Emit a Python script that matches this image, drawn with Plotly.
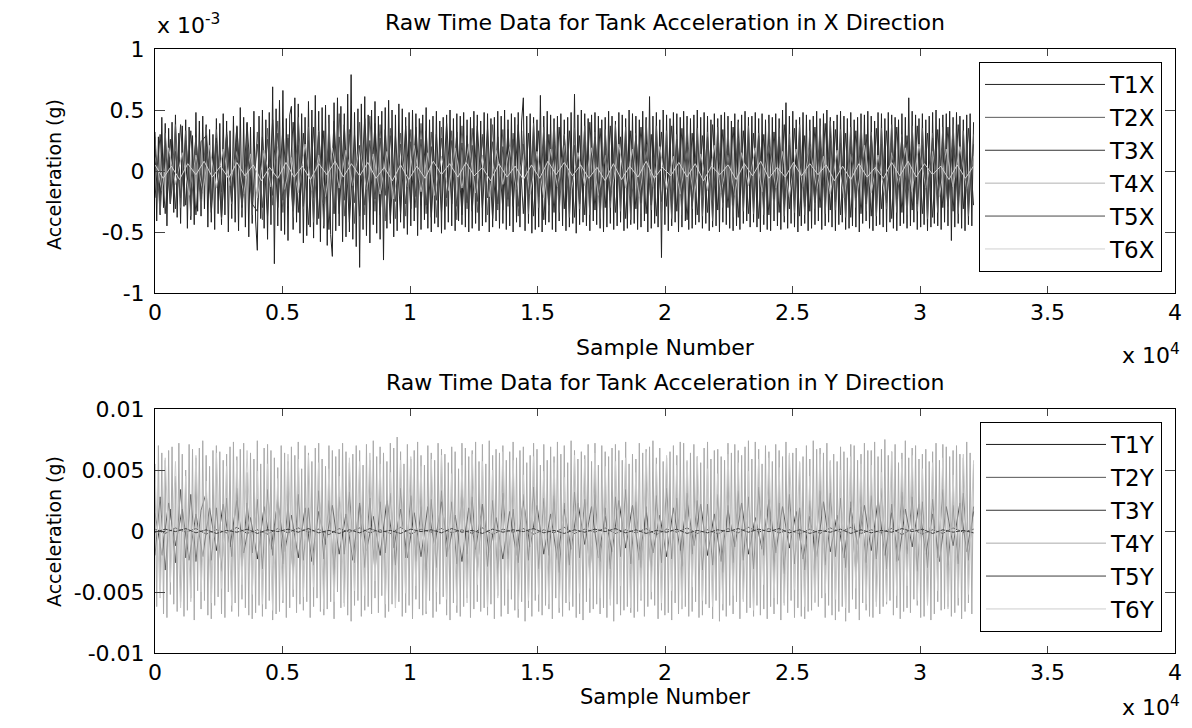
import numpy as np
import plotly.graph_objects as go

# ---------------- data ----------------
LAST_SAMPLE = 32100          # last sample index drawn
X_UNIT = 1e-5                # top panel values are in 1e-5 g
Y_UNIT = 1e-4                # bottom panel values are in 1e-4 g

TOP_NAMES = ["T1X", "T2X", "T3X", "T4X", "T5X", "T6X"]
BOT_NAMES = ["T1Y", "T2Y", "T3Y", "T4Y", "T5Y", "T6Y"]

T1X = [32,-41,28,-36,44,-30,39,-45,35,-27,
       40,-34,46,-38,31,-43,37,-29,42,-47,
       36,-40,29,-44,48,-33,41,-37,45,-31,
       38,-46,34,-42,30,-48,43,-35,39,-44,
       47,-36,41,-50,33,-39,45,-42,37,-49,
       52,-38,44,-46,40,-54,36,-43,49,-41,
       -65,45,-39,50,-47,42,-56,48,-44,69,
       -76,51,-45,58,-49,66,-52,43,-57,46,
       53,-48,60,-42,55,-51,47,-59,44,-53,
       57,-46,50,-55,62,-44,49,-58,52,-47,
       54,-61,46,-52,-70,56,-49,60,-45,53,
       -58,47,-54,63,-50,79,-56,48,-62,51,
       -79,55,-48,61,-53,46,-59,50,-44,57,
       -51,45,-56,49,-73,52,-47,58,-43,50,
       -54,46,-49,55,-42,51,-47,44,-52,48,
       -45,50,-41,47,-53,43,-48,46,-40,52,
       -47,42,-50,45,-43,49,-46,41,-51,44,
       -48,46,-42,50,-45,43,-49,47,-41,45,
       -44,48,-46,42,-50,44,-47,49,-43,46,
       -49,41,-45,48,-42,47,-50,43,-46,44,
       -41,49,-47,45,-43,50,-48,42,-45,47,
       -50,44,-42,48,-46,41,60,-49,45,-43,
       47,-51,44,-48,42,-46,62,-50,45,-44,
       49,-42,46,-48,43,-50,45,-41,47,-45,
       42,-49,44,-46,48,-43,63,-51,46,-44,
       50,-42,47,-45,43,-49,46,-41,48,-44,
       45,-47,42,-50,44,-46,49,-43,45,-48,
       41,-45,48,-42,46,-49,43,-47,50,-44,
       47,-43,45,-48,42,-46,49,-41,44,-50,
       61,-47,45,-43,48,-46,42,-71,50,-44,
       46,-49,43,-45,48,-42,47,-50,44,-46,
       49,-41,45,-48,43,-47,46,-44,50,-42,
       44,-47,48,-43,45,-49,42,-46,47,-45,
       43,-50,46,-42,48,-44,45,-47,41,-49,
       47,-45,42,-48,46,-43,49,-41,44,-46,
       45,-42,48,-46,43,-50,47,-44,42,-48,
       46,-49,44,-41,47,-45,43,-48,50,-42,
       56,-47,45,-43,49,-46,42,-50,44,-45,
       48,-43,46,-49,42,-47,45,-44,49,-41,
       43,-48,47,-45,50,-42,44,-46,41,-49,
       46,-44,49,-42,45,-48,43,-47,48,-45,
       42,-46,44,-50,47,-43,46,-41,49,-47,
       45,-49,41,-45,48,-44,47,-46,43,-50,
       48,-42,46,-47,44,-49,42,-45,47,-43,
       44,-47,60,-45,49,-42,46,-48,43,-46,
       47,-44,42,-49,45,-46,48,-43,50,-45,
       43,-48,46,-42,47,-45,49,-57,44,-46,
       48,-43,45,-47,42,-49,46,-44,47,-45,
       40]
T2X = [28,-35,31,-26,38,-30,33,-37,27,-32,
       36,-29,34,-39,30,-27,37,-33,29,-36,
       32,-40,35,-28,41,-34,30,-38,44,-31,
       36,-42,33,-45,39,-35,47,-37,34,-43,
       40,-36,45,-33,38,-41,35,-39,31,-37,
       34,-30,39,-35,32,-38,36,-29,33,-40,
       37,-31,35,-34,30,-36,38,-32,34,-29,
       31,-37,33,-35,39,-30,36,-33,41,-34,
       30,-38,35,-31,37,-36,32,-39,34,-30,
       38,-33,36,-40,31,-35,42,-32,37,-34,
       33,-39,30,-36,38,-31,35,-37,32,-41,
       36,-30,34,-38,40,-33,37,-35,31,-36,
       39,-32,35,-37,30,-34,38,-36,33,-31,
       37,-35,41,-32,34,-38,36,-30,39,-33,
       32,-37,35,-31,38,-34,30,-36,37,-33,
       35,-39,31,-34,36,-32,38,-35,33,-37,
       30]
T3X = [-22,30,-35,26,-31,38,-28,33,-36,24,
       29,-34,27,-38,32,-25,36,-30,39,-27,
       -33,28,-37,42,-30,35,-29,40,-34,31,
       -44,36,-39,33,-48,41,-35,38,-42,30,
       -37,43,-32,39,-36,34,-40,29,-35,37,
       -31,36,-28,33,-38,30,-34,39,-27,32,
       -36,29,-33,37,-30,35,-39,28,-32,34,
       -29,38,-35,31,-37,33,-40,30,-34,36,
       -31,33,-38,29,-36,40,-32,35,-30,37,
       -34,28,-39,33,-31,36,-35,30,-37,32,
       -29,37,-33,35,-40,31,-36,29,-34,38,
       -32,34,-30,36,-38,33,-35,31,-39,30,
       -36,32,-34,38,-31,35,-37,29,-33,36,
       -30,39,-32,34,-36,31,-38,33,-35,30,
       -37,35,-31,33,-39,36,-34,29,-32,37,
       -35,31,-38,34,-30,36,-33,38,-31,35,
       -28]
T4X = [12,-16,19,-11,15,-20,13,-17,21,-14,
       18,-12,16,-19,14,-22,17,-13,20,-15,
       11,-18,22,-16,13,-21,19,-14,17,-12,
       20,-15,14,-19,16,-23,18,-13,21,-17,
       15,-20,12,-16,19,-14,22,-18,13,-21,
       17,-11,20,-15,14,-19,16,-22,18,-13,
       21,-17,15,-12,19,-20,13,-16,22,-14,
       18,-21,16,-13,20,-15,12,-19,17,-22,
       14,-16,21,-18,13,-20,15,-12,19,-17,
       22,-14,16,-21,18,-13,20,-15,12,-19,
       17,-22,14,-16,21,-18,13,-20,15,-11,
       19,-17,22,-14,16,-21,18,-13,20,-15,
       12]
T5X = [18,-24,21,-27,16,-22,25,-19,28,-23,
       20,-26,23,-17,29,-21,24,-28,19,-25,
       22,-30,26,-20,31,-24,27,-33,21,-29,
       25,-22,32,-27,23,-35,28,-24,30,-26,
       21,-28,25,-23,27,-20,29,-25,22,-27,
       24,-21,26,-28,20,-24,27,-22,25,-29,
       23,-26,21,-25,28,-22,24,-27,20,-23,
       26,-29,22,-24,27,-21,25,-28,23,-20,
       29,-25,21,-27,24,-22,28,-26,20,-24,
       27,-23,25,-21,29,-26,22,-28,24,-25,
       21,-27,26,-23,22,-29,25,-20,28,-24,
       23,-26,20,-28,27,-22,24,-25,29,-21,
       26,-23,28,-27,21,-24,25,-29,22,-26,
       24,-21,27,-25,23,-28,20,-22,26,-27,
       29,-24,22,-26,25,-23,28,-21,24,-27,
       21,-25,27,-22,23,-29,26,-24,20,-28,
       22]
T6X = [5,-6,4,-7,6,-3,8,-5,4,-6,
       7,-4,5,-8,3,-6,7,-5,4,-7,
       6,-3,8,-5,6,-4,7,-6,3,-8,
       5,-7,4,-6,8,-3,6,-5,7,-4,
       3,-8,6,-5,4,-7,5,-6,8,-3,
       7,-4,5,-6,3,-8,6,-7,4,-5,
       8,-6,3,-4,7,-5,6,-8,4,-3,
       5,-7,6,-4,8,-6,3,-5,7,-4,
       6,-3,5,-8,4,-7,6,-5,3,-6,
       7,-4,8,-5,6,-3,4,-7,5,-6,
       4]

T1Y = [1.5,-2,2.5,-1,2,-2.5,1,-1.5,3,-2,
       1,-2.5,2,-1.5,2.5,-1,1.5,-3,2,-1,
       2.5,-1.5,1,-2,3,-2.5,1.5,-1,2,-1.5,
       1,-2,2.5,-3,1.5,-1,2,-2.5,1,-1.5,
       3,-2,1.5,-1,2.5,-2,1,-1.5,2,-3,
       1.5,-1,2.5,-2,1,-2.5,2,-1.5,3,-1,
       2,-1.5,1,-2.5,1.5,-2,2.5,-1,3,-2,
       1,-1.5,2,-3,1.5,-2.5,1,-2,2.5,-1,
       1.5]
T2Y = [-20,28,-32,18,-26,34,-22,30,-25,17,
       31,-24,19,-33,27,-21,35,-29,23,-18,
       26,-31,34,-20,29,-27,22,-35,30,-24,
       19,-28,33,-23,25,-36,28,-19,32,-26,
       21,-30,27,-34,24,-18,31,-28,35,-22,
       29,-25,20,-32,26,-30,33,-21,24,-27,
       34,-19,28,-33,22,-29,25,-35,31,-23,
       18,-26,30,-24,36,-31,27,-20,29,-34,
       23,-28,32,-22,26,-35,30,-25,19,-31,
       28,-21,34,-27,24,-30,20,-33,29,-26,
       35,-23,27,-29,31,-19,25,-32,22,-28,
       30,-34,21,-26,33,-24,28,-31,36,-20,
       26,-29,23,-35,30,-27,19,-32,25,-22,
       33,-28,31,-21,27,-30,24,-34,20,-26,
       29,-23,35,-31,22,-25,32,-19,28,-33,
       24,-30,26,-22,34,-28,21,-27,31,-24,
       20]
T3Y = [15,-20,23,-12,18,-24,14,-21,19,-16,
       22,-13,25,-18,11,-23,20,-15,24,-17,
       13,-22,19,-25,16,-11,21,-19,14,-24,
       23,-16,12,-20,25,-14,18,-22,15,-21,
       20,-12,24,-17,13,-25,19,-15,22,-18,
       11,-23,16,-20,25,-13,21,-19,14,-24,
       18,-15,23,-11,20,-22,12,-17,25,-14,
       21,-24,15,-18,13,-21,19,-16,24,-12,
       22,-20,14,-25,17,-13,23,-19,11,-15,
       25,-18,20,-14,16,-23,12,-21,24,-17,
       13,-22,19,-11,21,-16,25,-20,15,-24,
       18,-13,22,-19,14,-25,20,-12,23,-17,
       16]
T4Y = [55,-62,70,-48,64,-68,58,-71,66,-52,
       69,-60,45,-66,72,-58,63,-70,50,-65,
       71,-55,67,-73,60,-49,68,-64,74,-57,
       62,-69,53,-72,66,-61,70,-54,65,-68,
       58,-71,63,-50,69,-66,73,-59,61,-70,
       67,-56,72,-63,48,-69,64,-72,59,-67,
       74,-61,55,-70,68,-64,71,-57,66,-73,
       60,-68,52,-66,70,-59,64,-71,57,-63,
       69,-54,62,-67,73,-60,51,-65,70,-58,
       64,-71,57,-62,68,-55,72,-66,59,-69,
       53,-64,70,-58,66,-72,61,-50,67,-63,
       72,-59,65,-69,56,-74,63,-61,70,-57,
       66,-70,54,-65,71,-62,58,-68,74,-55,
       61,-67,69,-53,64,-71,57,-66,72,-60,
       68,-63,77,-58,65,-70,55,-67,71,-61,
       59,-72,66,-56,73,-64,62,-69,54,-68,
       70,-57,64,-71,58,-66,72,-60,67,-54,
       63,-69,56,-73,69,-59,65,-67,51,-70,
       72,-62,68,-55,61,-71,66,-64,73,-58,
       57,-66,71,-63,55,-69,74,-60,62,-72,
       67,-53,64,-70,70,-61,58,-68,65,-56,
       73,-65,60,-71,66,-58,69,-74,56,-63,
       62,-70,72,-57,67,-66,54,-69,71,-61,
       58,-64,69,-72,61,-55,73,-67,63,-70,
       70,-59,56,-65,74,-62,66,-71,59,-68,
       65,-73,62,-58,71,-67,57,-64,72,-60,
       54,-68,70,-63,65,-71,61,-56,68,-74,
       71,-60,66,-69,58,-65,73,-62,55,-67,
       63,-71,59,-66,72,-57,64,-70,67,-62,
       69,-56,74,-61,60,-72,68,-65,57,-69,
       60,-67,65,-73,70,-59,62,-68,73,-64,
       72,-62,57,-70,64,-66,71,-58,61,-71,
       56,-69,68,-60,73,-63,59,-72,66,-57,
       67,-74,61,-65,58,-70,72,-61,64,-68,
       71,-58,66,-72,62,-56,69,-67,74,-63,
       59,-70,73,-61,67,-69,55,-64,70,-72,
       65,-62,57,-68,71,-60,66,-73,61,-59,
       73,-67,62,-57,64,-71,68,-63,56,-70,
       61,-72,70,-66,59,-65,74,-58,67,-62,
       68,-55,64,-71,72,-61,57,-69,63,-73,
       57,-66,69,-62,65,-74,60,-67,71,-56,
       70,-64,58,-73,63,-59,72,-65,66,-70,
       66,-71,73,-58,61,-68,67,-62,75,-60,
       62,-57,65,-69,71,-63,56,-72,64,-66,
       74,-63,60,-67,68,-56,70,-61,59,-71,
       63,-70,67,-60,57,-73,65,-68,72,-58,
       58,-65,71,-64,69,-62,61,-70,66,-67,
       70,-61,63,-72,60,-66,73,-59,64,-68,
       55]
T5Y = [-1,1.5,-0.5,2,-1.5,1,-2,0.5,-1,1.5,
       -2,1,-0.5,1.5,-1,2,-1.5,0.5,-2,1,
       -1.5,2,-1,0.5,-2,1.5,-0.5,1,-1.5,2,
       -1,0.5,-2,1.5,-1,1,-0.5,2,-1.5,0.5,
       -2,1,-1,1.5,-0.5,2,-1.5,1,-2,0.5,
       -1,1.5,-2,0.5,-1.5,1,-0.5,2,-1,1.5,
       -0.5,2,-1.5,1,-2,0.5,-1,1.5,-2,1,
       -1.5,0.5,-1,2,-0.5,1.5,-2,1,-1,0.5,
       -1.5]
T6Y = [48,-55,60,-42,57,-63,45,-58,62,-50,
       41,-59,64,-47,53,-61,58,-44,66,-52,
       49,-60,55,-65,43,-57,63,-48,59,-54,
       62,-46,56,-64,51,-58,45,-62,60,-49,
       57,-53,64,-41,55,-60,48,-63,58,-51,
       61,-45,53,-66,59,-50,62,-56,47,-61,
       54,-59,63,-44,57,-62,50,-55,65,-48,
       58,-64,46,-57,61,-52,49,-60,56,-63,
       44,-58,62,-51,59,-47,64,-55,53,-61,
       57,-45,60,-63,48,-56,65,-50,55,-59,
       62,-49,54,-64,58,-46,61,-57,51,-62,
       47,-60,63,-53,56,-58,49,-65,59,-44,
       60,-55,52,-61,64,-48,57,-62,45,-59,
       63,-51,58,-56,50,-63,61,-47,55,-60,
       54,-62,48,-58,65,-53,59,-45,62,-57,
       51,-61,56,-49,60,-64,46,-55,63,-52,
       58]

TOP_SERIES = [T1X, T2X, T3X, T4X, T5X, T6X]
BOT_SERIES = [T1Y, T2Y, T3Y, T4Y, T5Y, T6Y]

X_TICKS = [0, 5000, 10000, 15000, 20000, 25000, 30000, 35000, 40000]
X_TICKTEXT = ["0", "0.5", "1", "1.5", "2", "2.5", "3", "3.5", "4"]
TOP_YTICKS = [-1e-3, -0.5e-3, 0, 0.5e-3, 1e-3]
TOP_YTICKTEXT = ["-1", "-0.5", "0", "0.5", "1"]
BOT_YTICKS = [-0.01, -0.005, 0, 0.005, 0.01]
BOT_YTICKTEXT = ["-0.01", "-0.005", "0", "0.005", "0.01"]

TOP_COLORS = ["#222222", "#5c5c5c", "#333333", "#b2b2b2", "#474747", "#d0d0d0"]
BOT_COLORS = ["#1c1c1c", "#555555", "#333333", "#aaaaaa", "#3d3d3d", "#cdcdcd"]

# ---------------- figure ----------------
W, H = 1192, 728
FONT = "DejaVu Sans"


def px(xp):
    return xp / W


def py(yp):
    return 1 - yp / H


fig = go.Figure()

for names, series, colors, unit, xa, ya, lg in [
    (TOP_NAMES, TOP_SERIES, TOP_COLORS, X_UNIT, "x", "y", "legend"),
    (BOT_NAMES, BOT_SERIES, BOT_COLORS, Y_UNIT, "x2", "y2", "legend2"),
]:
    for name, vals, col in zip(names, series, colors):
        n = len(vals)
        xs = np.arange(n) * (LAST_SAMPLE / (n - 1))
        ys = np.array(vals, dtype=float) * unit
        fig.add_trace(go.Scatter(
            x=xs, y=ys, mode="lines", name=name,
            line=dict(color=col, width=1),
            xaxis=xa, yaxis=ya, legend=lg, legendgroup=name,
        ))

LEFT, RIGHT = 155, 1175
TOP_AX = (49, 293)
BOT_AX = (409, 653)

axis_common = dict(
    showline=True, linecolor="black", linewidth=1, mirror="ticks",
    ticks="inside", showgrid=False, zeroline=False, automargin=False,
    tickfont=dict(family=FONT, size=22, color="black"),
)

legend_common = dict(
    x=px(1162), xanchor="right", yanchor="top",
    bgcolor="white", bordercolor="black", borderwidth=1,
    font=dict(family=FONT, size=23, color="black"),
    tracegroupgap=0, itemwidth=120,
)

fig.update_layout(
    width=W, height=H,
    margin=dict(l=0, r=0, t=0, b=0, autoexpand=False),
    paper_bgcolor="white", plot_bgcolor="white",
    showlegend=True,
    xaxis=dict(domain=[px(LEFT), px(RIGHT)], range=[0, 40000], anchor="y",
               tickvals=X_TICKS, ticktext=X_TICKTEXT, ticklen=7,
               ticklabelstandoff=0, **axis_common),
    yaxis=dict(domain=[py(TOP_AX[1]), py(TOP_AX[0])], range=[-1e-3, 1e-3],
               anchor="x", tickvals=TOP_YTICKS, ticktext=TOP_YTICKTEXT,
               ticklen=10, ticklabelstandoff=5, **axis_common),
    xaxis2=dict(domain=[px(LEFT), px(RIGHT)], range=[0, 40000], anchor="y2",
                tickvals=X_TICKS, ticktext=X_TICKTEXT, ticklen=7,
                ticklabelstandoff=0, **axis_common),
    yaxis2=dict(domain=[py(BOT_AX[1]), py(BOT_AX[0])], range=[-0.01, 0.01],
                anchor="x2", tickvals=BOT_YTICKS, ticktext=BOT_YTICKTEXT,
                ticklen=10, ticklabelstandoff=5, **axis_common),
    legend=dict(y=py(62), **legend_common),
    legend2=dict(y=py(422), **legend_common),
)

ann_font = dict(family=FONT, size=22, color="black")
annotations = [
    dict(text="Raw Time Data for Tank Acceleration in X Direction",
         x=px(665), y=py(22), xanchor="center", yanchor="middle"),
    dict(text="Raw Time Data for Tank Acceleration in Y Direction",
         x=px(665), y=py(382), xanchor="center", yanchor="middle"),
    dict(text="Sample Number", x=px(665), y=py(347), xanchor="center", yanchor="middle"),
    dict(text="Sample Number", x=px(665), y=py(697), xanchor="center", yanchor="middle",
         font=dict(family=FONT, size=21, color="black")),
    dict(text="x 10<sup>-3</sup>", x=px(155), y=py(40), xanchor="left", yanchor="bottom"),
    dict(text="x 10<sup>4</sup>", x=px(1182), y=py(370), xanchor="right", yanchor="bottom"),
    dict(text="x 10<sup>4</sup>", x=px(1182), y=py(722), xanchor="right", yanchor="bottom"),
    dict(text="Acceleration (g)", x=px(54), y=py(175), xanchor="center", yanchor="middle",
         textangle=-90, font=dict(family=FONT, size=19, color="black")),
    dict(text="Acceleration (g)", x=px(54), y=py(532), xanchor="center", yanchor="middle",
         textangle=-90, font=dict(family=FONT, size=19, color="black")),
]
for a in annotations:
    a.setdefault("font", ann_font)
    a.update(xref="paper", yref="paper", showarrow=False)
fig.update_layout(annotations=annotations)

fig.write_html(
    "out.html",
    config={"displayModeBar": False},
    post_script="document.body.style.margin='0';document.body.style.padding='0';"
                "document.body.style.overflow='hidden';",
)
